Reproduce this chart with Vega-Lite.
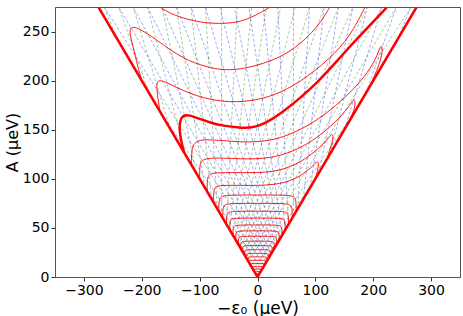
{
"$schema": "https://vega.github.io/schema/vega-lite/v6.json",
"width": 405, "height": 270, "autosize": "none",
"padding": {"left": 55, "top": 7, "right": 3, "bottom": 39},
"config": {"view": {"stroke": "#555", "strokeWidth": 1}, "font": "DejaVu Sans",
 "axis": {"labelFont": "DejaVu Sans", "titleFont": "DejaVu Sans", "labelFontSize": 14, "titleFontSize": 17, "titleFontWeight": "normal", "labelColor": "#000", "titleColor": "#000", "tickColor": "#333", "domainColor": "#555", "tickSize": 4, "grid": false, "labelPadding": 2}},
"datasets": {
"g": [
{"s":"g1","x":-243.2,"y":243.2},{"s":"g1","x":-265,"y":275},
{"s":"g2","x":-187.5,"y":187.5},{"s":"g2","x":-240,"y":275},
{"s":"g3","x":-150.9,"y":150.9},{"s":"g3","x":-215,"y":275},
{"s":"g4","x":-124.9,"y":124.9},{"s":"g4","x":-190,"y":275},
{"s":"g5","x":-105.8,"y":105.8},{"s":"g5","x":-165,"y":275},
{"s":"g6","x":-91,"y":91},{"s":"g6","x":-140,"y":275},
{"s":"g7","x":-79.1,"y":79.1},{"s":"g7","x":-115,"y":275},
{"s":"g8","x":-69.4,"y":69.4},{"s":"g8","x":-90,"y":275},
{"s":"g9","x":-62,"y":62},{"s":"g9","x":-62,"y":275},
{"s":"g10","x":-53.5,"y":53.5},{"s":"g10","x":-35,"y":275},
{"s":"g11","x":-47.8,"y":47.8},{"s":"g11","x":-10,"y":275},
{"s":"g12","x":-43,"y":43},{"s":"g12","x":15,"y":275},
{"s":"g13","x":-38.8,"y":38.8},{"s":"g13","x":40,"y":275},
{"s":"g14","x":-35,"y":35},{"s":"g14","x":65,"y":275},
{"s":"g15","x":-31.7,"y":31.7},{"s":"g15","x":90,"y":275},
{"s":"g16","x":-28.7,"y":28.7},{"s":"g16","x":115,"y":275},
{"s":"g17","x":-26,"y":26},{"s":"g17","x":140,"y":275},
{"s":"g18","x":-23.6,"y":23.6},{"s":"g18","x":165,"y":275},
{"s":"g19","x":-21.4,"y":21.4},{"s":"g19","x":190,"y":275},
{"s":"g20","x":-19.4,"y":19.4},{"s":"g20","x":215,"y":275},
{"s":"g21","x":-17.5,"y":17.5},{"s":"g21","x":240,"y":275},
{"s":"g22","x":-15.8,"y":15.8},{"s":"g22","x":265,"y":275},
{"s":"g23","x":-12,"y":12},{"s":"g23","x":172,"y":172},
{"s":"g24","x":-8,"y":8},{"s":"g24","x":100,"y":100},
{"s":"g25","x":-4,"y":4},{"s":"g25","x":50,"y":50}
],
"b": [
{"s":"b1","x":243.2,"y":243.2},{"s":"b1","x":265,"y":275},
{"s":"b2","x":187.5,"y":187.5},{"s":"b2","x":240,"y":275},
{"s":"b3","x":150.9,"y":150.9},{"s":"b3","x":215,"y":275},
{"s":"b4","x":124.9,"y":124.9},{"s":"b4","x":190,"y":275},
{"s":"b5","x":105.8,"y":105.8},{"s":"b5","x":165,"y":275},
{"s":"b6","x":91,"y":91},{"s":"b6","x":140,"y":275},
{"s":"b7","x":79.1,"y":79.1},{"s":"b7","x":115,"y":275},
{"s":"b8","x":69.4,"y":69.4},{"s":"b8","x":90,"y":275},
{"s":"b9","x":62,"y":62},{"s":"b9","x":62,"y":275},
{"s":"b10","x":53.5,"y":53.5},{"s":"b10","x":35,"y":275},
{"s":"b11","x":47.8,"y":47.8},{"s":"b11","x":10,"y":275},
{"s":"b12","x":43,"y":43},{"s":"b12","x":-15,"y":275},
{"s":"b13","x":38.8,"y":38.8},{"s":"b13","x":-40,"y":275},
{"s":"b14","x":35,"y":35},{"s":"b14","x":-65,"y":275},
{"s":"b15","x":31.7,"y":31.7},{"s":"b15","x":-90,"y":275},
{"s":"b16","x":28.7,"y":28.7},{"s":"b16","x":-115,"y":275},
{"s":"b17","x":26,"y":26},{"s":"b17","x":-140,"y":275},
{"s":"b18","x":23.6,"y":23.6},{"s":"b18","x":-165,"y":275},
{"s":"b19","x":21.4,"y":21.4},{"s":"b19","x":-190,"y":275},
{"s":"b20","x":19.4,"y":19.4},{"s":"b20","x":-215,"y":275},
{"s":"b21","x":17.5,"y":17.5},{"s":"b21","x":-240,"y":275},
{"s":"b22","x":15.8,"y":15.8},{"s":"b22","x":-265,"y":275},
{"s":"b23","x":12,"y":12},{"s":"b23","x":-172,"y":172},
{"s":"b24","x":8,"y":8},{"s":"b24","x":-100,"y":100},
{"s":"b25","x":4,"y":4},{"s":"b25","x":-50,"y":50}
],
"r": [
{"s":"t1","x":-169,"y":275},{"s":"t1","x":-150,"y":268},{"s":"t1","x":-120,"y":262},{"s":"t1","x":-90,"y":258.5},{"s":"t1","x":-56,"y":258},{"s":"t1","x":-30,"y":260},{"s":"t1","x":-13,"y":264},{"s":"t1","x":5,"y":269},{"s":"t1","x":22,"y":275},
{"s":"t2","x":-200,"y":200},{"s":"t2","x":-207,"y":214},{"s":"t2","x":-215,"y":235},{"s":"t2","x":-222,"y":250},{"s":"t2","x":-218,"y":255.5},{"s":"t2","x":-205,"y":253},{"s":"t2","x":-185,"y":246},{"s":"t2","x":-169,"y":239},{"s":"t2","x":-140,"y":227},{"s":"t2","x":-111,"y":218},{"s":"t2","x":-70,"y":211},{"s":"t2","x":-40,"y":211},{"s":"t2","x":-18,"y":213},{"s":"t2","x":20,"y":219},{"s":"t2","x":56,"y":229},{"s":"t2","x":90,"y":246},{"s":"t2","x":110,"y":260},{"s":"t2","x":125,"y":275},
{"s":"t3","x":-169,"y":170},{"s":"t3","x":-172,"y":182},{"s":"t3","x":-175,"y":195},{"s":"t3","x":-172,"y":201},{"s":"t3","x":-160,"y":199},{"s":"t3","x":-140,"y":193},{"s":"t3","x":-105,"y":184},{"s":"t3","x":-60,"y":178},{"s":"t3","x":-13,"y":178.6},{"s":"t3","x":30,"y":185},{"s":"t3","x":73,"y":198},{"s":"t3","x":125,"y":222},{"s":"t3","x":160,"y":245},{"s":"t3","x":186,"y":275},
{"s":"ra","x":-114,"y":114},{"s":"ra","x":-114,"y":128},{"s":"ra","x":-111,"y":135.5},{"s":"ra","x":-102,"y":139},{"s":"ra","x":-90,"y":140},{"s":"ra","x":-60,"y":139},{"s":"ra","x":-30,"y":137.5},{"s":"ra","x":0,"y":137.5},{"s":"ra","x":30,"y":140},{"s":"ra","x":60,"y":146},{"s":"ra","x":90,"y":155},{"s":"ra","x":120,"y":167},{"s":"ra","x":150,"y":182},{"s":"ra","x":180,"y":200},{"s":"ra","x":200,"y":217},{"s":"ra","x":209,"y":229},{"s":"ra","x":213,"y":236},{"s":"ra","x":216,"y":234},{"s":"ra","x":215,"y":226},{"s":"ra","x":210,"y":216},{"s":"ra","x":203,"y":206},{"s":"ra","x":197,"y":198},
{"s":"rb","x":-100,"y":100},{"s":"rb","x":-100,"y":112},{"s":"rb","x":-98,"y":118},{"s":"rb","x":-90,"y":120.5},{"s":"rb","x":-70,"y":121.5},{"s":"rb","x":-40,"y":120.5},{"s":"rb","x":0,"y":120},{"s":"rb","x":40,"y":123},{"s":"rb","x":80,"y":133},{"s":"rb","x":110,"y":145},{"s":"rb","x":135,"y":158},{"s":"rb","x":155,"y":171},{"s":"rb","x":163,"y":178},{"s":"rb","x":166,"y":181},{"s":"rb","x":169,"y":179},{"s":"rb","x":168,"y":172},{"s":"rb","x":164,"y":166},{"s":"rb","x":157,"y":158},
{"s":"rc","x":-87,"y":87},{"s":"rc","x":-87,"y":98},{"s":"rc","x":-85,"y":104},{"s":"rc","x":-78,"y":106},{"s":"rc","x":-50,"y":106.5},{"s":"rc","x":0,"y":106},{"s":"rc","x":40,"y":108},{"s":"rc","x":75,"y":117},{"s":"rc","x":100,"y":128},{"s":"rc","x":118,"y":138},{"s":"rc","x":126,"y":144},{"s":"rc","x":129,"y":146},{"s":"rc","x":131,"y":143},{"s":"rc","x":129,"y":137},{"s":"rc","x":125,"y":130},{"s":"rc","x":121,"y":122},
{"s":"rd","x":-76,"y":76},{"s":"rd","x":-76,"y":85},{"s":"rd","x":-74,"y":91},{"s":"rd","x":-68,"y":93.2},{"s":"rd","x":-40,"y":93.5},{"s":"rd","x":0,"y":93},{"s":"rd","x":40,"y":94.5},{"s":"rd","x":70,"y":101},{"s":"rd","x":90,"y":110},{"s":"rd","x":100,"y":116},{"s":"rd","x":104,"y":118},{"s":"rd","x":106,"y":115},{"s":"rd","x":104,"y":109},{"s":"rd","x":101,"y":102},
{"s":"c1","x":-66.8,"y":66.8},{"s":"c1","x":-66.8,"y":76.8},{"s":"c1","x":-64.3,"y":82.2},{"s":"c1","x":-50.1,"y":83.5},{"s":"c1","x":0,"y":83.5},{"s":"c1","x":50.1,"y":83.5},{"s":"c1","x":64.3,"y":82.2},{"s":"c1","x":66.8,"y":76.8},{"s":"c1","x":66.8,"y":66.8},
{"s":"c2","x":-60,"y":60},{"s":"c2","x":-60,"y":69},{"s":"c2","x":-57.8,"y":73.9},{"s":"c2","x":-45,"y":75},{"s":"c2","x":0,"y":75},{"s":"c2","x":45,"y":75},{"s":"c2","x":57.8,"y":73.9},{"s":"c2","x":60,"y":69},{"s":"c2","x":60,"y":60},
{"s":"c3","x":-53.6,"y":53.6},{"s":"c3","x":-53.6,"y":61.6},{"s":"c3","x":-51.6,"y":66},{"s":"c3","x":-40.2,"y":67},{"s":"c3","x":0,"y":67},{"s":"c3","x":40.2,"y":67},{"s":"c3","x":51.6,"y":66},{"s":"c3","x":53.6,"y":61.6},{"s":"c3","x":53.6,"y":53.6},
{"s":"c4","x":-48,"y":48},{"s":"c4","x":-48,"y":55.2},{"s":"c4","x":-46.2,"y":59.1},{"s":"c4","x":-36,"y":60},{"s":"c4","x":0,"y":60},{"s":"c4","x":36,"y":60},{"s":"c4","x":46.2,"y":59.1},{"s":"c4","x":48,"y":55.2},{"s":"c4","x":48,"y":48},
{"s":"c5","x":-42.4,"y":42.4},{"s":"c5","x":-42.4,"y":48.8},{"s":"c5","x":-40.8,"y":52.2},{"s":"c5","x":-31.8,"y":53},{"s":"c5","x":0,"y":53},{"s":"c5","x":31.8,"y":53},{"s":"c5","x":40.8,"y":52.2},{"s":"c5","x":42.4,"y":48.8},{"s":"c5","x":42.4,"y":42.4},
{"s":"c6","x":-37.6,"y":37.6},{"s":"c6","x":-37.6,"y":43.2},{"s":"c6","x":-36.2,"y":46.3},{"s":"c6","x":-28.2,"y":47},{"s":"c6","x":0,"y":47},{"s":"c6","x":28.2,"y":47},{"s":"c6","x":36.2,"y":46.3},{"s":"c6","x":37.6,"y":43.2},{"s":"c6","x":37.6,"y":37.6},
{"s":"c7","x":-33.2,"y":33.2},{"s":"c7","x":-33.2,"y":38.2},{"s":"c7","x":-32,"y":40.9},{"s":"c7","x":-24.9,"y":41.5},{"s":"c7","x":0,"y":41.5},{"s":"c7","x":24.9,"y":41.5},{"s":"c7","x":32,"y":40.9},{"s":"c7","x":33.2,"y":38.2},{"s":"c7","x":33.2,"y":33.2},
{"s":"c8","x":-29.2,"y":29.2},{"s":"c8","x":-29.2,"y":33.6},{"s":"c8","x":-28.1,"y":36},{"s":"c8","x":-21.9,"y":36.5},{"s":"c8","x":0,"y":36.5},{"s":"c8","x":21.9,"y":36.5},{"s":"c8","x":28.1,"y":36},{"s":"c8","x":29.2,"y":33.6},{"s":"c8","x":29.2,"y":29.2},
{"s":"c9","x":-25.6,"y":25.6},{"s":"c9","x":-25.6,"y":29.4},{"s":"c9","x":-24.6,"y":31.5},{"s":"c9","x":-19.2,"y":32},{"s":"c9","x":0,"y":32},{"s":"c9","x":19.2,"y":32},{"s":"c9","x":24.6,"y":31.5},{"s":"c9","x":25.6,"y":29.4},{"s":"c9","x":25.6,"y":25.6},
{"s":"c10","x":-22.2,"y":22.2},{"s":"c10","x":-22.2,"y":25.6},{"s":"c10","x":-21.4,"y":27.4},{"s":"c10","x":-16.7,"y":27.8},{"s":"c10","x":0,"y":27.8},{"s":"c10","x":16.7,"y":27.8},{"s":"c10","x":21.4,"y":27.4},{"s":"c10","x":22.2,"y":25.6},{"s":"c10","x":22.2,"y":22.2},
{"s":"c11","x":-19.2,"y":19.2},{"s":"c11","x":-19.2,"y":22.1},{"s":"c11","x":-18.5,"y":23.6},{"s":"c11","x":-14.4,"y":24},{"s":"c11","x":0,"y":24},{"s":"c11","x":14.4,"y":24},{"s":"c11","x":18.5,"y":23.6},{"s":"c11","x":19.2,"y":22.1},{"s":"c11","x":19.2,"y":19.2},
{"s":"c12","x":-16.4,"y":16.4},{"s":"c12","x":-16.4,"y":18.9},{"s":"c12","x":-15.8,"y":20.2},{"s":"c12","x":-12.3,"y":20.5},{"s":"c12","x":0,"y":20.5},{"s":"c12","x":12.3,"y":20.5},{"s":"c12","x":15.8,"y":20.2},{"s":"c12","x":16.4,"y":18.9},{"s":"c12","x":16.4,"y":16.4},
{"s":"c13","x":-13.6,"y":13.6},{"s":"c13","x":-13.6,"y":15.6},{"s":"c13","x":-13.1,"y":16.7},{"s":"c13","x":-10.2,"y":17},{"s":"c13","x":0,"y":17},{"s":"c13","x":10.2,"y":17},{"s":"c13","x":13.1,"y":16.7},{"s":"c13","x":13.6,"y":15.6},{"s":"c13","x":13.6,"y":13.6},
{"s":"c14","x":-11,"y":11},{"s":"c14","x":-11,"y":12.7},{"s":"c14","x":-10.6,"y":13.6},{"s":"c14","x":-8.3,"y":13.8},{"s":"c14","x":0,"y":13.8},{"s":"c14","x":8.3,"y":13.8},{"s":"c14","x":10.6,"y":13.6},{"s":"c14","x":11,"y":12.7},{"s":"c14","x":11,"y":11},
{"s":"c15","x":-8.6,"y":8.6},{"s":"c15","x":-8.6,"y":9.9},{"s":"c15","x":-8.3,"y":10.6},{"s":"c15","x":-6.5,"y":10.8},{"s":"c15","x":0,"y":10.8},{"s":"c15","x":6.5,"y":10.8},{"s":"c15","x":8.3,"y":10.6},{"s":"c15","x":8.6,"y":9.9},{"s":"c15","x":8.6,"y":8.6},
{"s":"c16","x":-6.4,"y":6.4},{"s":"c16","x":-6.4,"y":7.4},{"s":"c16","x":-6.2,"y":7.9},{"s":"c16","x":-4.8,"y":8},{"s":"c16","x":0,"y":8},{"s":"c16","x":4.8,"y":8},{"s":"c16","x":6.2,"y":7.9},{"s":"c16","x":6.4,"y":7.4},{"s":"c16","x":6.4,"y":6.4},
{"s":"c17","x":-4.4,"y":4.4},{"s":"c17","x":-4.4,"y":5.1},{"s":"c17","x":-4.2,"y":5.4},{"s":"c17","x":-3.3,"y":5.5},{"s":"c17","x":0,"y":5.5},{"s":"c17","x":3.3,"y":5.5},{"s":"c17","x":4.2,"y":5.4},{"s":"c17","x":4.4,"y":5.1},{"s":"c17","x":4.4,"y":4.4},
{"s":"c18","x":-2.6,"y":2.6},{"s":"c18","x":-2.6,"y":2.9},{"s":"c18","x":-2.5,"y":3.2},{"s":"c18","x":-1.9,"y":3.2},{"s":"c18","x":0,"y":3.2},{"s":"c18","x":1.9,"y":3.2},{"s":"c18","x":2.5,"y":3.2},{"s":"c18","x":2.6,"y":2.9},{"s":"c18","x":2.6,"y":2.6}
],
"t": [
{"s":"th","x":-127,"y":127},{"s":"th","x":-132,"y":138},{"s":"th","x":-135,"y":150},{"s":"th","x":-134,"y":160},{"s":"th","x":-128,"y":165},{"s":"th","x":-118,"y":165},{"s":"th","x":-100,"y":161},{"s":"th","x":-80,"y":157},{"s":"th","x":-60,"y":154},{"s":"th","x":-30,"y":152},{"s":"th","x":-10,"y":152},{"s":"th","x":10,"y":155},{"s":"th","x":44,"y":168},{"s":"th","x":75,"y":183},{"s":"th","x":103,"y":198},{"s":"th","x":130,"y":215},{"s":"th","x":160,"y":235},{"s":"th","x":192,"y":255},{"s":"th","x":224,"y":275}
],
"v": [
{"s":"v","x":-275,"y":275},{"s":"v","x":0,"y":0},{"s":"v","x":275,"y":275}
]
},
"encoding": {
 "x": {"field": "x", "type": "quantitative", "scale": {"domain": [-350, 350], "nice": false, "zero": false},
  "axis": {"values": [-300, -200, -100, 0, 100, 200, 300], "title": "−ε₀ (μeV)", "titlePadding": 3}},
 "y": {"field": "y", "type": "quantitative", "scale": {"domain": [0, 275], "nice": false, "zero": false},
  "axis": {"values": [0, 50, 100, 150, 200, 250], "title": "A (μeV)", "titlePadding": 2, "titleFontSize": 16}},
 "detail": {"field": "s", "type": "nominal"},
 "order": {"value": null}
},
"layer": [
 {"data": {"name": "g"}, "mark": {"type": "line", "color": "#008000", "strokeWidth": 0.7, "opacity": 0.55, "strokeDash": [3, 2], "clip": true}},
 {"data": {"name": "b"}, "mark": {"type": "line", "color": "#0000ff", "strokeWidth": 0.7, "opacity": 0.5, "strokeDash": [3, 2], "clip": true}},
 {"data": {"name": "r"}, "mark": {"type": "line", "color": "#ff0000", "strokeWidth": 0.9, "interpolate": "basis", "clip": true}},
 {"data": {"name": "t"}, "mark": {"type": "line", "color": "#ff0000", "strokeWidth": 2.5, "interpolate": "basis", "clip": true}},
 {"data": {"name": "v"}, "mark": {"type": "line", "color": "#ff0000", "strokeWidth": 2.5, "clip": true}}
]
}
